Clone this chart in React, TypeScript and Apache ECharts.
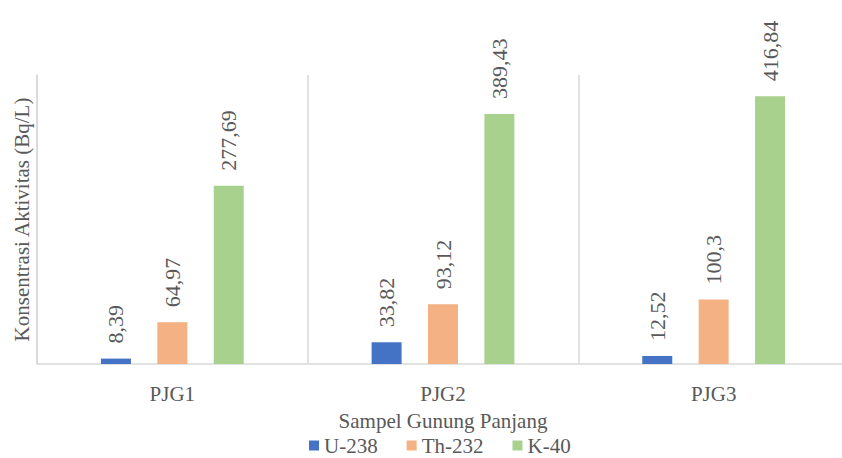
import React, { useEffect, useRef } from "react";
import * as echarts from "echarts";

const categories = ["PJG1", "PJG2", "PJG3"];
const seriesNames = ["U-238", "Th-232", "K-40"];
const u238 = [8.39, 33.82, 12.52];
const th232 = [64.97, 93.12, 100.3];
const k40 = [277.69, 389.43, 416.84];
const colors = ["#4472C4", "#F4B183", "#A9D18E"];

const FONT = "Liberation Serif";
const TXT = "#595959";

export default function App() {
  const ref = useRef<HTMLDivElement>(null);
  useEffect(() => {
    if (!ref.current) return;
    const chart = echarts.init(ref.current, undefined, { renderer: "svg" });
    const values = [u238, th232, k40];
    chart.setOption({
      animation: false,
      textStyle: { fontFamily: FONT },
      grid: { left: 37, width: 812, top: 75, bottom: 94, outerBoundsMode: "none", containLabel: false },
      legend: {
        top: 435,
        left: 309,
        padding: 0,
        itemWidth: 10,
        itemHeight: 10,
        itemGap: 29,
        icon: "rect",
        textStyle: { fontFamily: FONT, fontSize: 21, color: TXT, lineHeight: 21 },
        data: seriesNames,
      },
      xAxis: {
        type: "category",
        data: categories,
        name: "Sampel Gunung Panjang",
        nameLocation: "middle",
        nameGap: 46,
        nameTextStyle: { fontFamily: FONT, fontSize: 21, color: TXT },
        axisLine: { lineStyle: { color: "#D9D9D9", width: 1.5 } },
        axisTick: { show: false },
        axisLabel: { fontFamily: FONT, fontSize: 21, color: TXT, margin: 19 },
        splitLine: { show: true, lineStyle: { color: "#D9D9D9", width: 1.5 } },
      },
      yAxis: {
        type: "value",
        min: 0,
        max: 450,
        name: "Konsentrasi Aktivitas (Bq/L)",
        nameLocation: "middle",
        nameGap: 5,
        nameTextStyle: { fontFamily: FONT, fontSize: 21, color: TXT },
        axisLine: { show: true, lineStyle: { color: "#D9D9D9", width: 1.5 } },
        axisTick: { show: false },
        axisLabel: { show: false },
        splitLine: { show: false },
      },
      series: seriesNames.map((name, i) => ({
        name,
        type: "bar",
        data: values[i],
        barWidth: 30,
        barGap: "88%",
        barCategoryGap: "48%",
        itemStyle: { color: colors[i] },
        label: {
          show: true,
          position: "top",
          rotate: 90,
          align: "left",
          verticalAlign: "middle",
          distance: 15,
          fontFamily: FONT,
          fontSize: 22,
          color: TXT,
          formatter: (p: any) => String(p.value).replace(".", ","),
        },
      })),
    });
    return () => chart.dispose();
  }, []);
  return <div ref={ref} style={{ width: 842, height: 458, position: "absolute", left: 0, top: 0 }} />;
}
